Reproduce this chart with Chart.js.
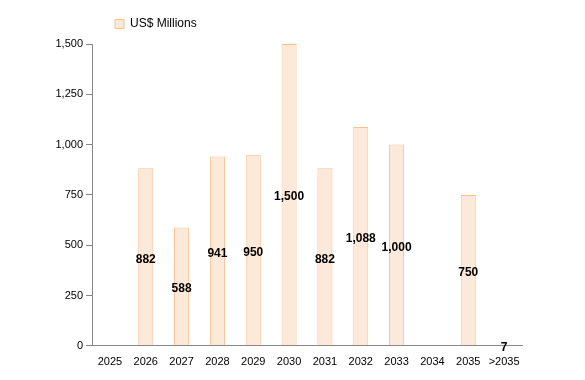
<!DOCTYPE html>
<html>
<head>
<meta charset="utf-8">
<script src="https://cdn.jsdelivr.net/npm/chart.js@4/dist/chart.umd.min.js"></script>
<style>
html,body{margin:0;padding:0;background:#fff;}
#wrap{width:585px;height:380px;}
</style>
</head>
<body>
<div id="wrap"><canvas id="c" width="585" height="380"></canvas></div>
<script>
const categories = ['2025','2026','2027','2028','2029','2030','2031','2032','2033','2034','2035','>2035'];
const values = [null, 882, 588, 941, 950, 1500, 882, 1088, 1000, null, 750, 7];
const seriesName = 'US$ Millions';
const yTicks = [0, 250, 500, 750, 1000, 1250, 1500];

const FONT = '"Liberation Sans", Arial, sans-serif';

const barLabels = {
  id: 'barLabels',
  afterDatasetsDraw(chart) {
    const ctx = chart.ctx;
    const meta = chart.getDatasetMeta(0);
    ctx.save();
    ctx.font = 'bold 12px ' + FONT;
    ctx.fillStyle = '#000';
    ctx.textAlign = 'center';
    ctx.textBaseline = 'middle';
    meta.data.forEach((bar, i) => {
      const v = values[i];
      if (v === null || v === undefined) return;
      const y = (bar.y + bar.base) / 2 + 2.5;
      ctx.fillText(v.toLocaleString('en-US'), bar.x, y);
    });
    ctx.restore();
  }
};

const legendShift = {
  id: 'legendShift',
  afterLayout(chart) {
    const lg = chart.legend;
    if (lg) { lg.left = 101; lg.top -= 4; lg.bottom -= 4; }
  }
};

new Chart(document.getElementById('c'), {
  type: 'bar',
  data: {
    labels: categories,
    datasets: [{
      label: seriesName,
      data: values,
      backgroundColor: '#FDE9D9',
      borderColor: '#FAC090',
      borderWidth: 1,
      barPercentage: 0.42,
      categoryPercentage: 1.0
    }]
  },
  options: {
    responsive: false,
    animation: false,
    devicePixelRatio: 1,
    layout: { padding: { top: 8, right: 63, left: 0, bottom: 1 } },
    plugins: {
      legend: {
        position: 'top',
        align: 'start',
        labels: {
          boxWidth: 9,
          boxHeight: 9,
          padding: 14,
          color: '#000',
          font: { family: FONT, size: 12 }
        }
      },
      tooltip: { enabled: false }
    },
    scales: {
      x: {
        grid: { display: false, drawTicks: false },
        border: { display: true, color: '#868686', width: 1 },
        ticks: { color: '#000', font: { family: FONT, size: 11 }, padding: 10, maxRotation: 0, autoSkip: false }
      },
      y: {
        min: 0,
        max: 1500,
        afterBuildTicks(scale) { scale.ticks = yTicks.map(v => ({ value: v })); },
        afterFit(scale) { scale.width = 92; },
        grid: { display: true, drawOnChartArea: false, drawTicks: true, tickLength: 6, color: '#868686' },
        border: { display: true, color: '#868686', width: 1 },
        ticks: {
          color: '#000',
          font: { family: FONT, size: 11 },
          padding: 3,
          callback: v => Number(v).toLocaleString('en-US')
        }
      }
    }
  },
  plugins: [barLabels, legendShift]
});
</script>
</body>
</html>
